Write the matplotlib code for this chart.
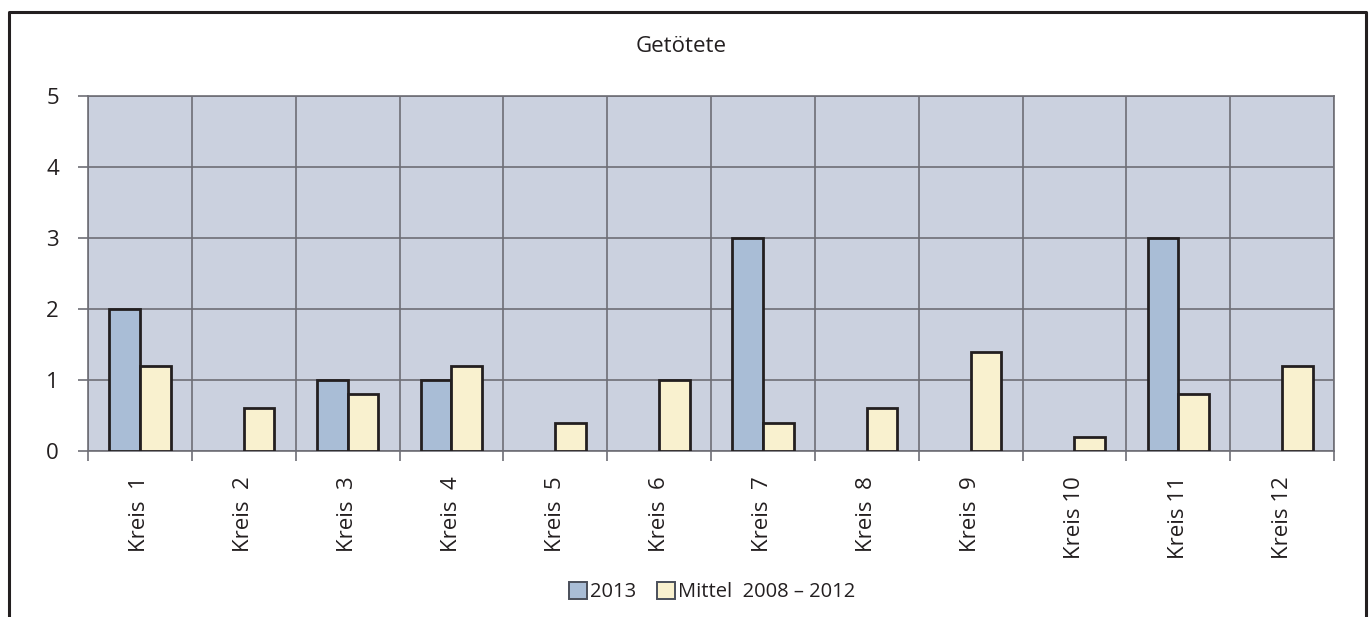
import matplotlib
matplotlib.use("Agg")
import matplotlib.pyplot as plt
import numpy as np
from matplotlib.lines import Line2D
from matplotlib.patches import Patch

plt.rcParams['font.family'] = ['Open Sans', 'DejaVu Sans']

# ---- data ----
kreise = ["Kreis  1", "Kreis  2", "Kreis  3", "Kreis  4", "Kreis  5", "Kreis  6",
          "Kreis  7", "Kreis  8", "Kreis  9", "Kreis 10", "Kreis 11", "Kreis 12"]
werte_2013 = [2, 0, 1, 1, 0, 0, 3, 0, 0, 0, 3, 0]
mittel_2008_2012 = [1.2, 0.6, 0.8, 1.2, 0.4, 1.0, 0.4, 0.6, 1.4, 0.2, 0.8, 1.2]

col_2013 = '#a9bdd6'
col_mittel = '#f9f1cf'
col_bg = '#cbd1df'
col_grid = '#6e6e76'
col_edge = '#231f20'
col_text = '#231f20'

fig = plt.figure(figsize=(13.71, 6.17), dpi=100)
ax = fig.add_axes([88 / 1371, 1 - 451 / 617, (1334 - 88) / 1371, (451 - 96) / 617])
ax.set_facecolor(col_bg)

x = np.arange(len(kreise))
w = 0.295
b1 = ax.bar(x - w / 2, werte_2013, w, color=col_2013, edgecolor=col_edge, linewidth=2, zorder=3)
b2 = ax.bar(x + w / 2, mittel_2008_2012, w, color=col_mittel, edgecolor=col_edge, linewidth=2, zorder=3)
# empty bars should not leave a line on the axis
for p in list(b1) + list(b2):
    if p.get_height() == 0:
        p.set_visible(False)

ax.set_xlim(-0.5, len(kreise) - 0.5)
ax.set_ylim(0, 5)

# grid at category boundaries and integer values
ax.set_xticks(np.arange(len(kreise) + 1) - 0.5)
ax.set_xticklabels([])
ax.set_xticks(x, minor=True)
ax.set_xticklabels(kreise, minor=True, rotation=90)
ax.tick_params(axis='x', which='minor', length=0, pad=18, labelsize=16, labelcolor=col_text)
ax.tick_params(axis='x', which='major', length=7, color=col_grid, width=1.2)
ax.set_yticks(range(6))
ax.tick_params(axis='y', length=7, color=col_grid, width=1.2, labelsize=16, pad=14, labelcolor=col_text)
ax.grid(True, which='major', color=col_grid, linewidth=1.2, zorder=1)
ax.set_axisbelow(True)
for s in ax.spines.values():
    s.set_color(col_grid)
    s.set_linewidth(1.2)

fig.text(681 / 1371, 1 - 47 / 617, "Getötete", ha='center', va='center', fontsize=16, color=col_text)

handles = [Patch(facecolor=col_2013, edgecolor='#4a4f5a', linewidth=1.4, label='2013'),
           Patch(facecolor=col_mittel, edgecolor='#4a4f5a', linewidth=1.4, label='Mittel  2008 – 2012')]
fig.legend(handles=handles, loc='center', bbox_to_anchor=(712 / 1371, 1 - 592 / 617), ncol=2,
           frameon=False, fontsize=14.5, handlelength=0.9, handleheight=0.9,
           handletextpad=0.15, columnspacing=1.0, labelcolor=col_text)

# outer frame (left, top, right)
fx0, fx1, fy = 9 / 1371, 1366 / 1371, 1 - 12 / 617
fig.add_artist(Line2D([fx0, fx0, fx1, fx1], [0, fy, fy, 0], color='#231f20', linewidth=2.2,
                      transform=fig.transFigure))

fig.savefig("out.png", dpi=100)
